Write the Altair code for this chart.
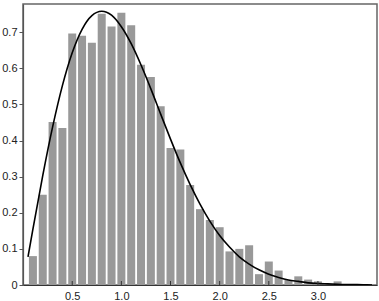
import altair as alt
import pandas as pd

# Histogram bins (centers) and heights
bin_centers = [0.1, 0.2, 0.3, 0.4, 0.5, 0.6, 0.7, 0.8, 0.9, 1.0,
               1.1, 1.2, 1.3, 1.4, 1.5, 1.6, 1.7, 1.8, 1.9, 2.0,
               2.1, 2.2, 2.3, 2.4, 2.5, 2.6, 2.7, 2.8, 2.9, 3.0,
               3.1, 3.2]
bar_heights = [0.080, 0.250, 0.451, 0.435, 0.696, 0.690, 0.671, 0.751, 0.716, 0.754,
               0.719, 0.610, 0.576, 0.495, 0.379, 0.375, 0.277, 0.210, 0.180, 0.160,
               0.093, 0.100, 0.110, 0.030, 0.065, 0.040, 0.014, 0.024, 0.015, 0.010,
               0.000, 0.010]

# Density curve points
curve_x = [0.05, 0.1, 0.2, 0.3, 0.4, 0.5, 0.6, 0.7, 0.8, 0.9, 1.0,
           1.1, 1.2, 1.3, 1.4, 1.5, 1.6, 1.7, 1.8, 1.9, 2.0,
           2.1, 2.2, 2.3, 2.4, 2.5, 2.6, 2.7, 2.8, 2.9, 3.0,
           3.1, 3.2, 3.3, 3.4, 3.5, 3.55]
curve_y = [0.078, 0.155, 0.303, 0.437, 0.552, 0.643, 0.708, 0.746, 0.758, 0.747, 0.715,
           0.668, 0.609, 0.543, 0.473, 0.404, 0.338, 0.278, 0.224, 0.177, 0.137,
           0.105, 0.078, 0.058, 0.042, 0.030, 0.021, 0.014, 0.010, 0.006, 0.004,
           0.003, 0.002, 0.001, 0.001, 0.0004, 0.0002]

x_ticks = [0.5, 1.0, 1.5, 2.0, 2.5, 3.0]
y_ticks = [0, 0.1, 0.2, 0.3, 0.4, 0.5, 0.6, 0.7]

bars_df = pd.DataFrame({"center": bin_centers, "height": bar_heights})
curve_df = pd.DataFrame({"x": curve_x, "y": curve_y})
xtick_df = pd.DataFrame({"t": x_ticks})

W, H = 354, 281
xscale = alt.Scale(domain=[0.05, 3.55], nice=False, zero=False)
yscale = alt.Scale(domain=[0, 0.778], nice=False)

bars = alt.Chart(bars_df).mark_bar(size=8, color="#999999").encode(
    x=alt.X("center:Q", scale=xscale,
            axis=alt.Axis(values=x_ticks, format=".1f", title=None, tickSize=0,
                          labelPadding=5, domainColor="#333333", domainWidth=1.2,
                          labelFlush=False)),
    y=alt.Y("height:Q", scale=yscale,
            axis=alt.Axis(values=y_ticks,
                          labelExpr="datum.value == 0 ? '0' : format(datum.value, '.1f')",
                          title=None, tickSize=4, tickColor="#555555", labelPadding=2,
                          domainColor="#555555", domainWidth=1.2, labelFlush=False)),
)

curve = alt.Chart(curve_df).mark_line(color="black", strokeWidth=1.6,
                                      interpolate="monotone", clip=True).encode(
    x=alt.X("x:Q", scale=xscale),
    y=alt.Y("y:Q", scale=yscale),
)

xticks = alt.Chart(xtick_df).mark_rule(color="#333333", strokeWidth=1).encode(
    x=alt.X("t:Q", scale=xscale),
    y=alt.value(H - 4),
    y2=alt.value(H),
)

chart = alt.layer(bars, curve, xticks).properties(
    width=W, height=H,
    autosize=alt.AutoSizeParams(type="none"),
    padding={"left": 23, "top": 4, "right": 2, "bottom": 16},
).configure_view(
    stroke="#666666", strokeWidth=1.5
).configure_axis(
    grid=False, labelFont="Liberation Sans", labelFontSize=11, labelColor="#222222"
)

chart.save("out.html", embed_options={"renderer": "svg", "actions": False})
